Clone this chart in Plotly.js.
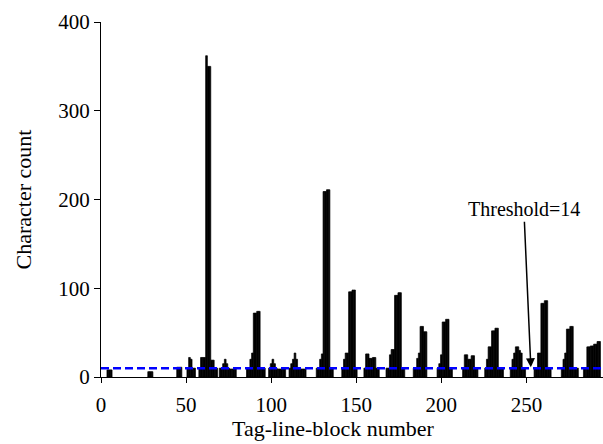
<!DOCTYPE html>
<html>
<head>
<meta charset="utf-8">
<script src="https://cdn.plot.ly/plotly-3.0.1.min.js"></script>
<style>html,body{margin:0;padding:0;background:#fff;}#chart{width:603px;height:444px;}</style>
</head>
<body>
<div id="chart"></div>
<script>
// Each cluster: first tag-line-block number and the character counts of consecutive blocks
var clusterStarts = [4, 28, 45, 51, 58, 70, 86, 99, 111, 127, 142, 155, 168, 184, 198, 213, 226, 241, 255, 271, 284];
var clusterCounts = [
  [8, 8, 8],
  [6, 6, 6],
  [11, 11, 11],
  [9, 22, 20, 10, 10],
  [10, 22, 22, 22, 362, 350, 350, 19, 19, 10, 10],
  [10, 10, 15, 20, 15, 10, 9, 9, 9, 9],
  [10, 10, 20, 27, 72, 72, 74, 74, 10, 10, 10],
  [10, 15, 20, 15, 10, 9, 9, 9, 9, 9],
  [10, 15, 20, 27, 20, 10, 9, 9, 9, 9],
  [10, 10, 20, 26, 209, 209, 211, 211, 10, 10],
  [10, 20, 27, 27, 96, 96, 98, 98, 10],
  [10, 26, 26, 21, 21, 22, 22, 10, 10],
  [10, 10, 25, 31, 31, 92, 92, 95, 95, 10, 10],
  [10, 10, 21, 27, 57, 57, 51, 51],
  [10, 15, 25, 62, 62, 65, 65, 10, 10],
  [10, 25, 25, 20, 20, 24, 24, 10, 10],
  [10, 20, 34, 34, 52, 52, 55, 55, 10, 10, 10],
  [10, 20, 27, 34, 34, 30, 27, 10, 10],
  [10, 10, 27, 27, 83, 83, 86, 86, 10, 10],
  [10, 20, 27, 54, 54, 57, 57, 10, 10, 10],
  [10, 10, 34, 34, 35, 35, 37, 37, 40, 40]
];
var threshold = 10;
var thresholdLabel = 'Threshold=14';
var xTitle = 'Tag-line-block number';
var yTitle = 'Character count';
var xTicks = [0, 50, 100, 150, 200, 250];
var yTicks = [0, 100, 200, 300, 400];

var blockNumbers = [], charCounts = [];
clusterStarts.forEach(function (s, i) {
  clusterCounts[i].forEach(function (v, j) {
    blockNumbers.push(s + j);
    charCounts.push(v);
  });
});

var fam = '"Liberation Serif", "Times New Roman", serif';
var tickFont = {family: fam, size: 21, color: '#000'};
var titleFont = {family: fam, size: 22, color: '#000'};
var annFont = {family: fam, size: 20, color: '#000'};

var trace = {
  type: 'bar',
  x: blockNumbers,
  y: charCounts,
  width: 1,
  marker: {color: '#000', line: {width: 0.7, color: '#000'}},
  hoverinfo: 'x+y'
};

var layout = {
  width: 603, height: 444,
  margin: {l: 101, r: 0, t: 22, b: 67},
  paper_bgcolor: '#fff', plot_bgcolor: '#fff',
  font: tickFont,
  showlegend: false,
  bargap: 0,
  xaxis: {
    range: [0, 295],
    tickvals: xTicks,
    ticktext: xTicks.map(String),
    ticks: 'outside', ticklen: 5, tickwidth: 1, tickcolor: '#000',
    ticklabelstandoff: 4,
    showline: true, linecolor: '#000', linewidth: 1,
    showgrid: false, zeroline: false,
    tickfont: tickFont
  },
  yaxis: {
    range: [0, 400],
    tickvals: yTicks,
    ticktext: yTicks.map(String),
    ticks: 'outside', ticklen: 6, tickwidth: 1, tickcolor: '#000',
    showline: true, linecolor: '#000', linewidth: 1,
    showgrid: false, zeroline: false,
    tickfont: tickFont,
    title: {text: yTitle, font: titleFont, standoff: 20}
  },
  shapes: [{
    type: 'line', xref: 'paper', yref: 'y',
    x0: 0, x1: 1, y0: threshold, y1: threshold,
    line: {color: '#0000ff', width: 2.5, dash: '8px,4px'},
    layer: 'above'
  }],
  annotations: [{
    x: 252.6, y: 11, xref: 'x', yref: 'y',
    text: thresholdLabel,
    showarrow: true, arrowhead: 2, arrowsize: 1.2, arrowwidth: 1.5, arrowcolor: '#000',
    ax: -7, ay: -158,
    font: annFont
  }, {
    x: 0.464, y: -0.186, xref: 'paper', yref: 'paper',
    xanchor: 'center', yanchor: 'bottom',
    text: xTitle, showarrow: false,
    font: titleFont
  }]
};

Plotly.newPlot('chart', [trace], layout, {staticPlot: true, displayModeBar: false});
</script>
</body>
</html>
